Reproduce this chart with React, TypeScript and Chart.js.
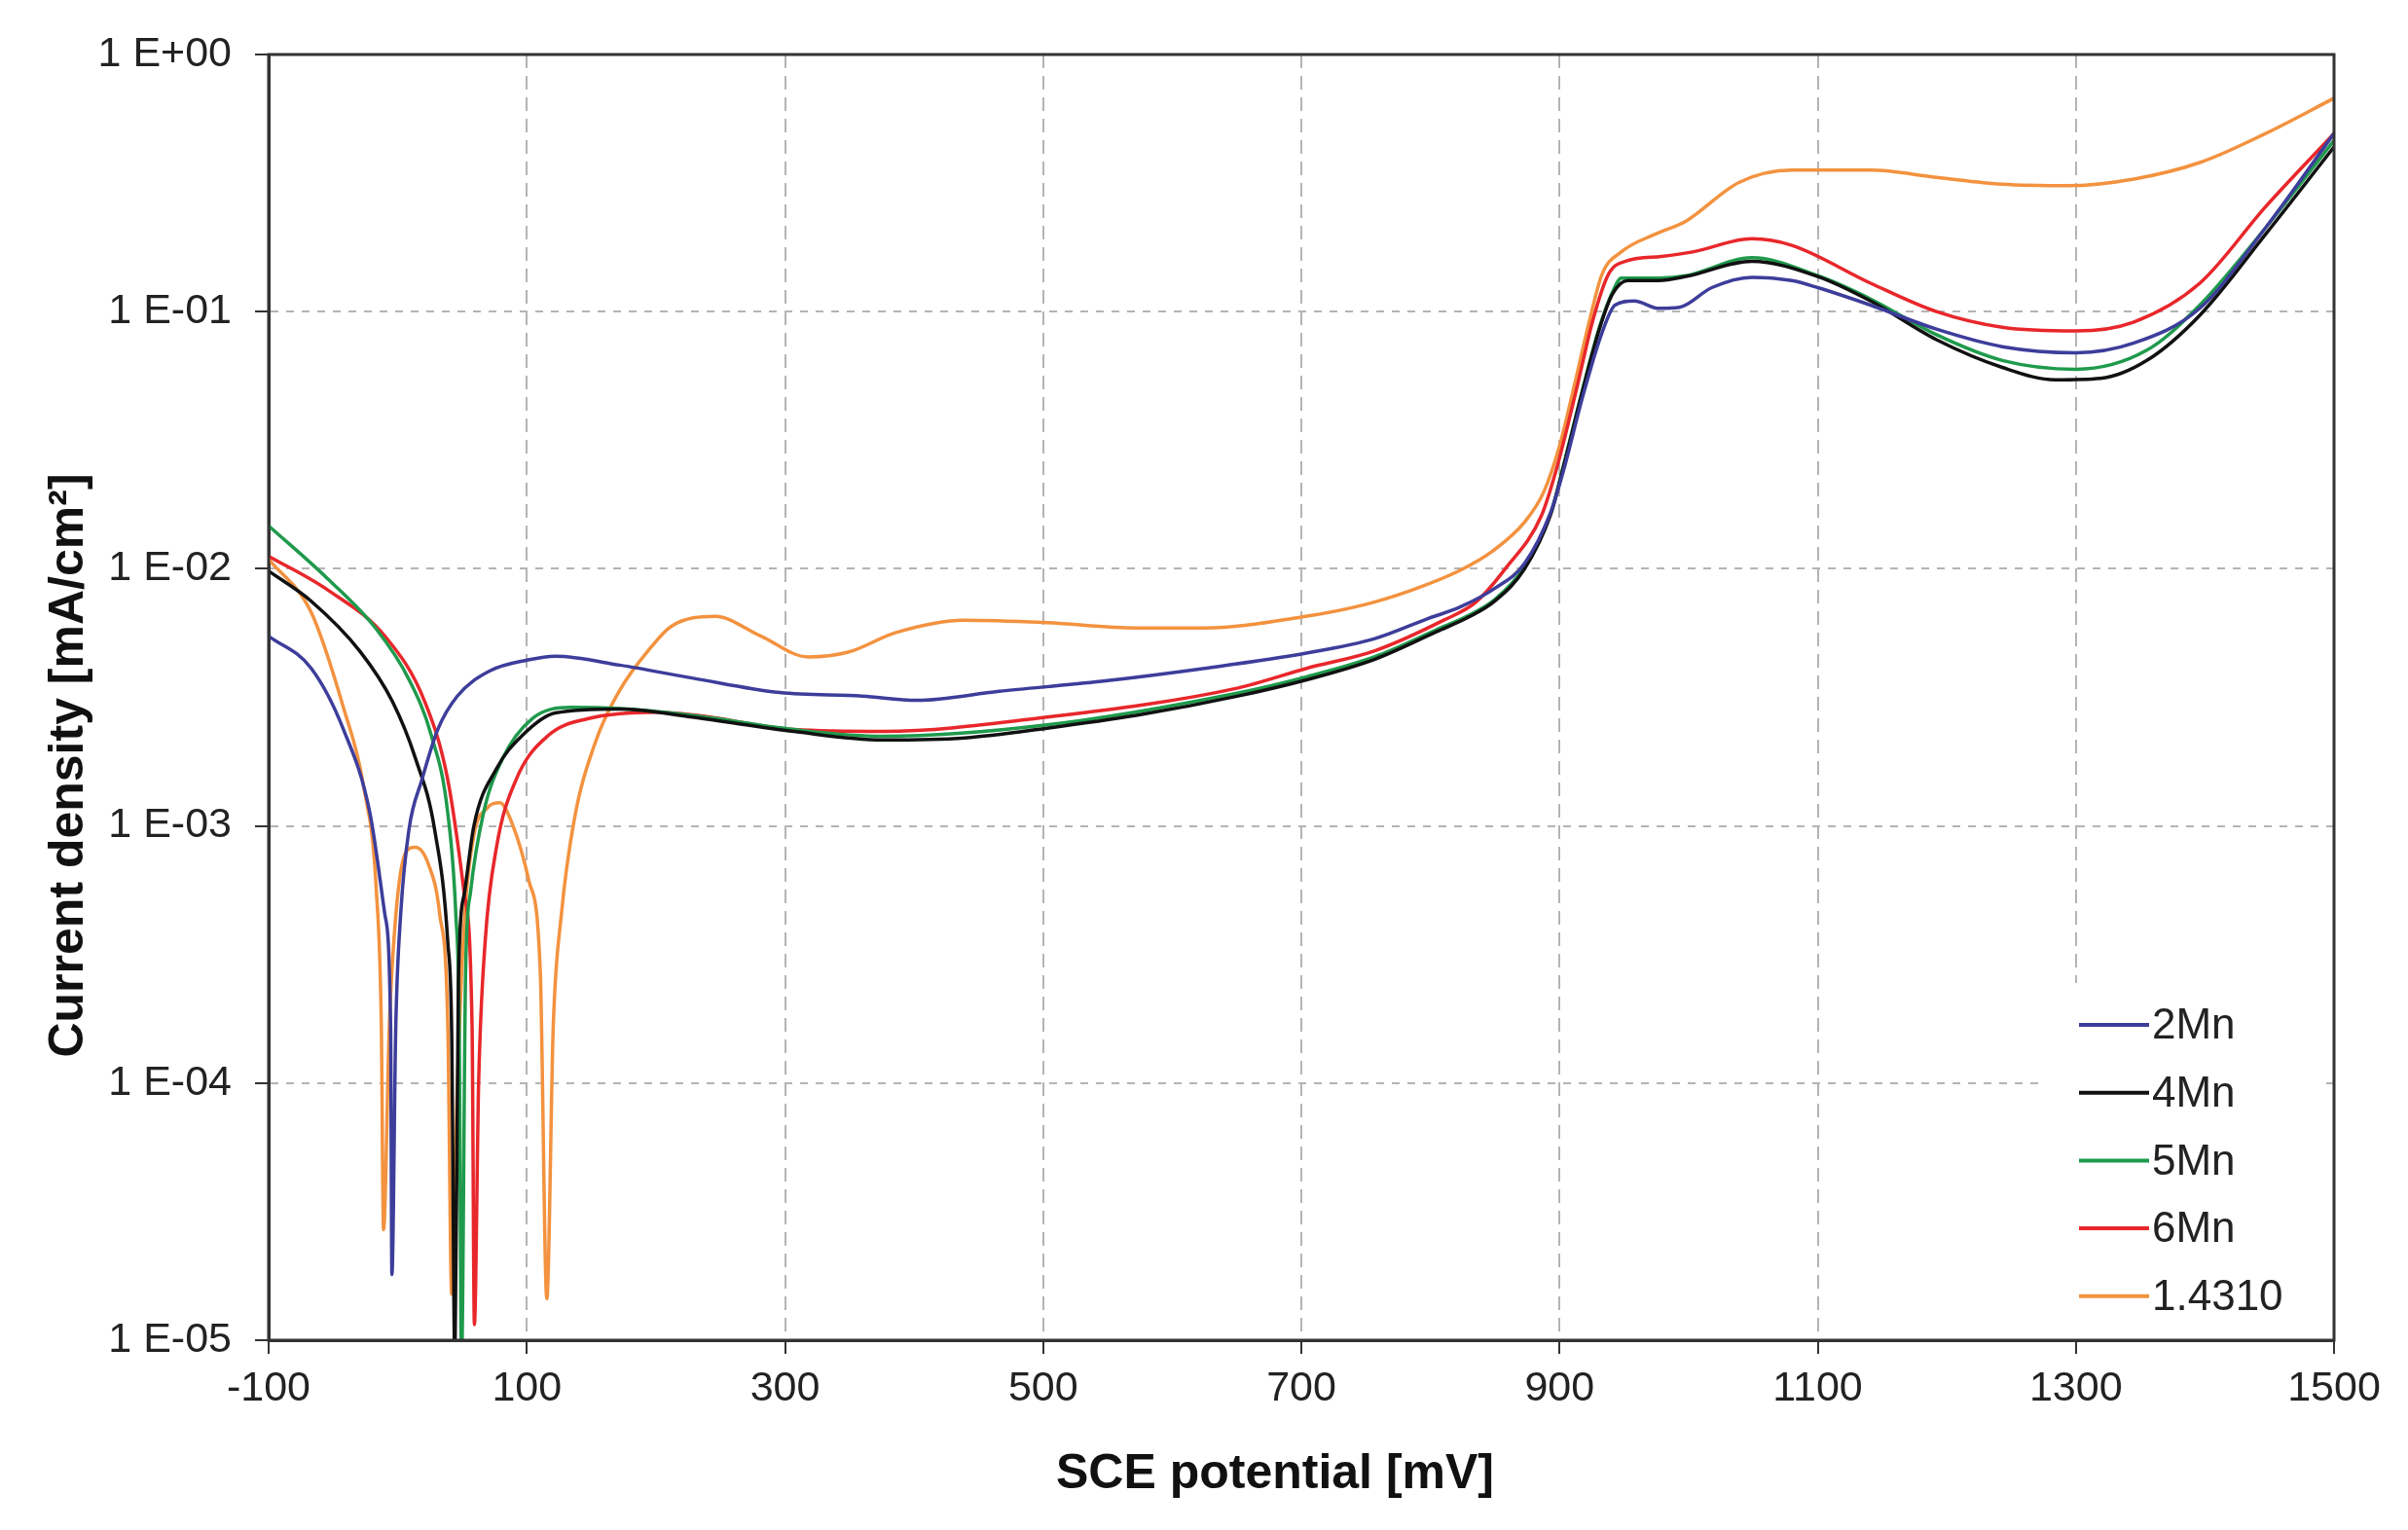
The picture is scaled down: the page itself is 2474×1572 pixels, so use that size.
import { useEffect, useRef } from 'react'
import { Chart, registerables } from 'chart.js'

Chart.register(...registerables)

const FONT = "'Liberation Sans', Arial, Helvetica, sans-serif"

const seriesNames = ['2Mn', '4Mn', '5Mn', '6Mn', '1.4310']
const seriesColors = ['#3d3d9b', '#111111', '#1f9a4c', '#e8272b', '#f3923f']

const xTickValues = [-100, 100, 300, 500, 700, 900, 1100, 1300, 1500]
const yTickValues = [1e-5, 1e-4, 1e-3, 1e-2, 1e-1, 1]
const yTickLabels = ['1 E-05', '1 E-04', '1 E-03', '1 E-02', '1 E-01', '1 E+00']

// 2Mn
const mn2Potential = [-100, -67, -42, -21.5, -10, -5.5, -4.5, -1.5, 2.3, 8.6, 18.7, 31, 46, 71, 101, 122, 172, 228, 296, 360, 402, 466, 545, 625, 704, 757, 798, 823, 850, 873, 893, 903, 918, 933, 943, 958, 977, 993, 1018, 1049, 1080, 1100, 1141, 1192, 1243, 1300, 1345, 1396, 1447, 1500]
const mn2Current = [5.47e-3, 4.1e-3, 2.37e-3, 1.12e-3, 4.54e-4, 1.67e-4, 1.8e-5, 1.67e-4, 4.54e-4, 9.6e-4, 1.51e-3, 2.37e-3, 3.19e-3, 4.0e-3, 4.42e-3, 4.57e-3, 4.22e-3, 3.76e-3, 3.3e-3, 3.2e-3, 3.08e-3, 3.34e-3, 3.65e-3, 4.1e-3, 4.7e-3, 5.35e-3, 6.4e-3, 7.1e-3, 8.4e-3, 1.05e-2, 1.65e-2, 2.4e-2, 4.68e-2, 8.3e-2, 0.106, 0.11, 0.103, 0.104, 0.124, 0.136, 0.132, 0.124, 0.106, 8.55e-2, 7.31e-2, 6.92e-2, 7.55e-2, 0.103, 0.212, 0.493]

// 4Mn
const mn4Potential = [-100, -67, -29, -4, 13.6, 28.7, 38.8, 41.8, 44.3, 47, 52, 59, 76.5, 96.6, 122, 172, 228, 307, 376, 439, 503, 572, 651, 704, 757, 805, 830, 850, 873, 893, 903, 918, 931, 941, 953, 977, 998, 1049, 1100, 1141, 1192, 1243, 1284, 1319, 1355, 1396, 1447, 1500]
const mn4Current = [9.8e-3, 7.48e-3, 4.76e-3, 3.04e-3, 1.84e-3, 9.6e-4, 3.53e-4, 1.58e-4, 8e-6, 2.5e-4, 5.6e-4, 1.0e-3, 1.67e-3, 2.25e-3, 2.75e-3, 2.85e-3, 2.65e-3, 2.33e-3, 2.16e-3, 2.2e-3, 2.4e-3, 2.69e-3, 3.2e-3, 3.7e-3, 4.45e-3, 5.7e-3, 6.5e-3, 7.5e-3, 1.0e-2, 1.62e-2, 2.48e-2, 4.95e-2, 8.59e-2, 0.117, 0.132, 0.132, 0.137, 0.157, 0.137, 0.11, 7.78e-2, 6.07e-2, 5.43e-2, 5.5e-2, 6.46e-2, 9.68e-2, 0.2, 0.437]

// 5Mn
const mn5Potential = [-100, -54, -16.5, 8.6, 26, 38.8, 45, 47.6, 49.4, 52.6, 56.4, 66.4, 81.5, 104, 134, 172, 228, 307, 376, 503, 651, 704, 757, 805, 830, 850, 873, 893, 903, 918, 931, 941, 948, 977, 998, 1049, 1100, 1141, 1192, 1243, 1300, 1355, 1396, 1447, 1500]
const mn5Current = [1.47e-2, 9.12e-3, 5.82e-3, 3.72e-3, 2.25e-3, 1.12e-3, 4.54e-4, 1.67e-4, 8e-6, 2.75e-4, 5.53e-4, 1.12e-3, 1.84e-3, 2.61e-3, 2.89e-3, 2.86e-3, 2.69e-3, 2.37e-3, 2.23e-3, 2.47e-3, 3.29e-3, 3.8e-3, 4.55e-3, 5.8e-3, 6.6e-3, 7.6e-3, 1.02e-2, 1.63e-2, 2.51e-2, 5.01e-2, 8.71e-2, 0.119, 0.135, 0.135, 0.138, 0.162, 0.138, 0.112, 8.13e-2, 6.46e-2, 5.97e-2, 7.08e-2, 0.106, 0.212, 0.463]

// 6Mn
const mn6Potential = [-100, -54, -9, 21, 38.8, 51.4, 57.6, 59.4, 62.7, 67.7, 76.5, 91.6, 116.7, 147, 201, 232, 307, 376, 503, 651, 704, 757, 810, 835, 858, 886, 898, 913, 926, 938, 953, 979, 1004, 1049, 1080, 1141, 1192, 1243, 1300, 1345, 1396, 1447, 1500]
const mn6Current = [1.12e-2, 8.26e-3, 5.4e-3, 3.04e-3, 1.51e-3, 5.53e-4, 1.67e-4, 1.15e-5, 1.01e-4, 3.53e-4, 8.26e-4, 1.51e-3, 2.25e-3, 2.61e-3, 2.77e-3, 2.69e-3, 2.37e-3, 2.33e-3, 2.65e-3, 3.44e-3, 4.1e-3, 4.8e-3, 6.3e-3, 7.4e-3, 1.0e-2, 1.61e-2, 2.48e-2, 4.95e-2, 9.33e-2, 0.14, 0.158, 0.164, 0.171, 0.192, 0.181, 0.129, 0.1, 8.69e-2, 8.41e-2, 9.12e-2, 0.129, 0.256, 0.493]

// 1.4310
const steelPotential = [-100, -67, -42, -26.6, -16.5, -12.7, -11, -6.5, -1.4, 6.1, 13.6, 23.7, 32.5, 38.8, 41.8, 46.3, 51.4, 58.9, 69, 79, 89, 101.6, 110.4, 115.5, 120.5, 126.8, 136.8, 152, 172, 197, 212, 246, 281, 318, 349, 386, 439, 503, 572, 625, 701, 748, 785, 823, 848, 873, 888, 900, 912, 923, 933, 948, 974, 998, 1039, 1080, 1141, 1192, 1243, 1294, 1345, 1396, 1447, 1500]
const steelCurrent = [1.09e-2, 6.76e-3, 2.88e-3, 1.44e-3, 5.53e-4, 1.67e-4, 2.69e-5, 1.67e-4, 4.54e-4, 7.87e-4, 8.26e-4, 7.11e-4, 4.54e-4, 1.67e-4, 1.51e-5, 1.01e-4, 4.1e-4, 9.14e-4, 1.17e-3, 1.23e-3, 1.01e-3, 6.12e-4, 2.75e-4, 1.45e-5, 1.67e-4, 4.54e-4, 1.06e-3, 2.04e-3, 3.37e-3, 5.01e-3, 5.98e-3, 6.53e-3, 5.48e-3, 4.54e-3, 4.74e-3, 5.65e-3, 6.31e-3, 6.17e-3, 5.89e-3, 5.89e-3, 6.5e-3, 7.23e-3, 8.24e-3, 9.86e-3, 1.17e-2, 1.52e-2, 2.0e-2, 3.0e-2, 5.3e-2, 9.12e-2, 0.14, 0.171, 0.2, 0.225, 0.318, 0.355, 0.355, 0.333, 0.313, 0.309, 0.328, 0.38, 0.493, 0.676]

const potentials = [mn2Potential, mn4Potential, mn5Potential, mn6Potential, steelPotential]
const currents = [mn2Current, mn4Current, mn5Current, mn6Current, steelCurrent]

const decor = {
  id: 'decor',
  afterDraw(chart: any) {
    const { ctx, chartArea: a } = chart
    ctx.save()
    // legend box
    ctx.fillStyle = '#ffffff'
    ctx.fillRect(a.right - 298, a.bottom - 367, 285, 362)
    ctx.font = `44px ${FONT}`
    ctx.textBaseline = 'middle'
    ctx.textAlign = 'left'
    seriesNames.forEach((name, i) => {
      const y = a.bottom - 324 + i * 69.7
      ctx.strokeStyle = seriesColors[i]
      ctx.lineWidth = 4
      ctx.beginPath()
      ctx.moveTo(a.right - 262, y)
      ctx.lineTo(a.right - 190, y)
      ctx.stroke()
      ctx.fillStyle = '#222'
      ctx.fillText(name, a.right - 187, y + 2)
    })
    // frame
    ctx.strokeStyle = '#333'
    ctx.lineWidth = 3
    ctx.strokeRect(a.left, a.top, a.right - a.left, a.bottom - a.top)
    // axis titles
    ctx.fillStyle = '#111'
    ctx.font = `bold 50px ${FONT}`
    ctx.textAlign = 'center'
    ctx.fillText('SCE potential [mV]', (a.left + a.right) / 2 - 27, a.bottom + 138)
    ctx.translate(a.left - 205, (a.top + a.bottom) / 2 + 70)
    ctx.rotate(-Math.PI / 2)
    ctx.fillText('Current density [mA/cm²]', 0, 0)
    ctx.restore()
  }
}

export default function App() {
  const ref = useRef<HTMLCanvasElement>(null)

  useEffect(() => {
    if (!ref.current) return
    const chart = new Chart(ref.current, {
      type: 'line',
      data: {
        datasets: seriesNames.map((name, i) => ({
          label: name,
          data: potentials[i].map((x, j) => ({ x, y: currents[i][j] })),
          borderColor: seriesColors[i],
          backgroundColor: seriesColors[i],
          borderWidth: 3.5,
          pointRadius: 0,
          fill: false,
          cubicInterpolationMode: 'monotone' as const
        }))
      },
      options: {
        responsive: false,
        animation: false,
        layout: { padding: { left: 0, right: 76, top: 56, bottom: 0 } },
        plugins: { legend: { display: false }, tooltip: { enabled: false } },
        scales: {
          x: {
            type: 'linear',
            min: -100,
            max: 1500,
            afterBuildTicks: (s: any) => { s.ticks = xTickValues.map(v => ({ value: v })) },
            afterFit: (s: any) => { s.height = 195 },
            grid: { color: '#b4b4b4', lineWidth: 2, tickLength: 14, tickColor: '#333', tickWidth: 2, tickBorderDash: [] },
            border: { display: true, color: '#333', width: 3, dash: [14, 8] },
            ticks: {
              font: { family: FONT, size: 43 },
              color: '#222',
              padding: 10,
              maxRotation: 0,
              autoSkip: false,
              callback: (v: any) => String(v)
            }
          },
          y: {
            type: 'logarithmic',
            min: 1e-5,
            max: 1,
            afterBuildTicks: (s: any) => { s.ticks = yTickValues.map(v => ({ value: v })) },
            afterFit: (s: any) => { s.width = 276 },
            grid: { color: '#b4b4b4', lineWidth: 2, tickLength: 14, tickColor: '#333', tickWidth: 2, tickBorderDash: [] },
            border: { display: true, color: '#333', width: 3, dash: [8, 8] },
            ticks: {
              font: { family: FONT, size: 43 },
              color: '#222',
              padding: 24,
              autoSkip: false,
              callback: (_v: any, i: number) => yTickLabels[i]
            }
          }
        }
      },
      plugins: [decor]
    })
    return () => chart.destroy()
  }, [])

  return (
    <div style={{ position: 'absolute', left: 0, top: 0, width: 2474, height: 1572, background: '#fff' }}>
      <canvas ref={ref} width={2474} height={1572} style={{ display: 'block' }} />
    </div>
  )
}
